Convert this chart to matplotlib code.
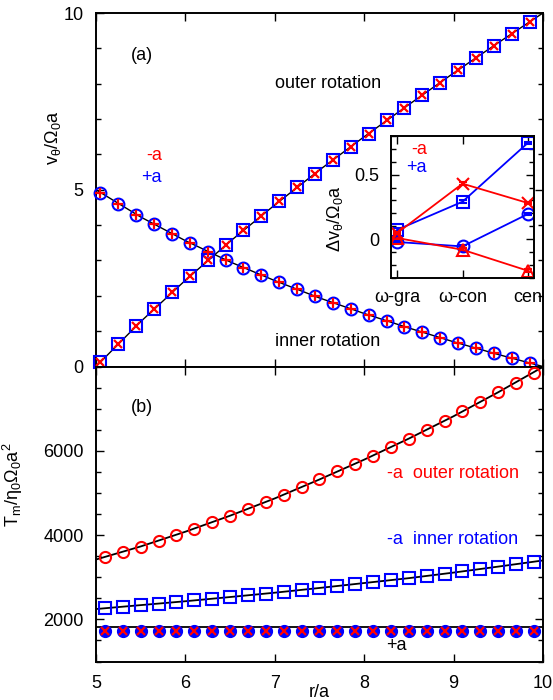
import matplotlib
matplotlib.use('Agg')
import matplotlib.pyplot as plt
from matplotlib.ticker import MultipleLocator, FixedLocator

plt.rcParams['font.family'] = ['Liberation Sans', 'DejaVu Sans']
plt.rcParams['mathtext.fontset'] = 'custom'
plt.rcParams['mathtext.rm'] = 'Liberation Sans'
plt.rcParams['mathtext.it'] = 'Liberation Sans'
plt.rcParams['font.size'] = 13

RED = '#ff0000'
BLUE = '#0000ff'
W, H = 553, 700

# (a) azimuthal velocity profiles
r_vel = [5.05, 5.25, 5.45, 5.65, 5.85, 6.05, 6.25, 6.45, 6.65, 6.85, 7.05, 7.25,
         7.45, 7.65, 7.85, 8.05, 8.25, 8.45, 8.65, 8.85, 9.05, 9.25, 9.45, 9.65, 9.85]
v_outer = [0.13, 0.65, 1.15, 1.63, 2.10, 2.56, 3.00, 3.43, 3.85, 4.27, 4.67, 5.07,
           5.46, 5.84, 6.22, 6.59, 6.96, 7.32, 7.68, 8.03, 8.38, 8.73, 9.07, 9.41, 9.75]
v_inner = [4.92, 4.60, 4.30, 4.02, 3.75, 3.49, 3.25, 3.02, 2.80, 2.58, 2.38, 2.18,
           1.99, 1.81, 1.63, 1.46, 1.29, 1.13, 0.97, 0.82, 0.67, 0.52, 0.38, 0.24, 0.10]
r_curve = [5.0, 5.5, 6.0, 6.5, 7.0, 7.5, 8.0, 8.5, 9.0, 9.5, 10.0]
curve_outer = [0.0, 1.27, 2.44, 3.54, 4.57, 5.56, 6.50, 7.41, 8.30, 9.16, 10.0]
curve_inner = [5.0, 4.23, 3.56, 2.96, 2.43, 1.94, 1.50, 1.09, 0.70, 0.34, 0.0]

# inset: velocity deviation per method
methods = ['ω-gra', 'ω-con', 'cen']
dv_minus_outer = [0.047, 0.43, 0.28]
dv_minus_inner = [0.008, -0.083, -0.246]
dv_plus_outer = [0.072, 0.29, 0.746]
dv_plus_inner = [-0.023, -0.057, 0.194]
dv_err = [0.01, 0.01, 0.01]

# (b) torque
r_torque = [5.1, 5.3, 5.5, 5.7, 5.9, 6.1, 6.3, 6.5, 6.7, 6.9, 7.1, 7.3, 7.5,
            7.7, 7.9, 8.1, 8.3, 8.5, 8.7, 8.9, 9.1, 9.3, 9.5, 9.7, 9.9]
t_minus_outer = [3479, 3600, 3728, 3862, 4000, 4150, 4300, 4460, 4625, 4790, 4962, 5142, 5324,
                 5510, 5697, 5885, 6084, 6289, 6496, 6712, 6934, 7162, 7392, 7620, 7846]
t_minus_inner = [2270, 2300, 2338, 2374, 2412, 2450, 2490, 2530, 2570, 2611, 2655, 2700, 2745,
                 2792, 2840, 2887, 2935, 2978, 3029, 3084, 3140, 3200, 3252, 3305, 3365]
t_plus = [1730, 1730, 1730, 1730, 1730, 1730, 1730, 1730, 1730, 1730, 1730, 1730, 1730,
          1730, 1730, 1730, 1730, 1730, 1730, 1730, 1730, 1730, 1730, 1730, 1730]
fit_minus_outer = [3420, 3730, 4080, 4460, 4870, 5320, 5790, 6290, 6820, 7390, 7990]
fit_minus_inner = [2245, 2338, 2430, 2530, 2633, 2745, 2862, 2978, 3110, 3252, 3398]
r_plus_line = [5.0, 10.0]
fit_plus = [1810, 1810]


def style_axes(ax):
    for s in ax.spines.values():
        s.set_linewidth(1.4)
    ax.tick_params(which='both', direction='in', top=True, right=True, width=1.0)
    ax.tick_params(which='major', length=6, pad=9)
    ax.tick_params(which='minor', length=3.5)


def label(x, y, s, **kw):
    # place text by pixel position measured from the top-left corner
    fig.text(x / W, 1 - y / H, s, va='center', **kw)


fig = plt.figure(figsize=(W / 100, H / 100), dpi=100)
ax1 = fig.add_axes([0.1736, 0.4764, 0.8082, 0.505])
ax2 = fig.add_axes([0.1736, 0.055, 0.8082, 0.4214])

# ---- panel (a)
ms_kw = dict(linestyle='none', clip_on=False, zorder=3)
ax1.plot(r_curve, curve_outer, color='black', lw=1.0, zorder=2)
ax1.plot(r_curve, curve_inner, color='black', lw=1.0, zorder=2)
ax1.plot(r_vel, v_outer, marker='s', ms=8, mfc='none', mec=BLUE, mew=1.5, **ms_kw)
ax1.plot(r_vel, v_inner, marker='o', ms=8.5, mfc='none', mec=BLUE, mew=1.5, **ms_kw)
ax1.plot(r_vel, v_outer, marker='x', ms=6, mec=RED, mew=1.6, **ms_kw)
ax1.plot(r_vel, v_inner, marker='+', ms=7, mec=RED, mew=1.6, **ms_kw)

ax1.set_xlim(5, 10)
ax1.set_ylim(0, 10)
ax1.xaxis.set_major_locator(MultipleLocator(1))
ax1.yaxis.set_major_locator(MultipleLocator(5))
ax1.yaxis.set_minor_locator(MultipleLocator(1))
ax1.set_xticklabels([])
style_axes(ax1)
ax1.set_ylabel(r'$\mathregular{v_\theta/\Omega_0a}$')
ax1.yaxis.set_label_coords(-0.074, 0.649)

label(142, 56, '(a)', ha='center')
label(275, 84, 'outer rotation', ha='left')
label(275, 342, 'inner rotation', ha='left')
label(162, 156, '-a', color=RED, ha='right')
label(162, 177, '+a', color=BLUE, ha='right')

# ---- inset
axi = fig.add_axes([0.7065, 0.6033, 0.2597, 0.2024])
xi = [0, 1, 2]
eb_kw = dict(capsize=3, elinewidth=1.0, lw=1.3, mew=1.5)
axi.errorbar(xi, dv_plus_outer, yerr=dv_err, color=BLUE, marker='s', ms=8, mfc='none', **eb_kw)
axi.errorbar(xi, dv_plus_inner, yerr=dv_err, color=BLUE, marker='o', ms=8.5, mfc='none', **eb_kw)
axi.errorbar(xi, dv_minus_outer, yerr=dv_err, color=RED, marker='x', ms=9, **eb_kw)
axi.errorbar(xi, dv_minus_inner, yerr=dv_err, color=RED, marker='^', ms=8, mfc='none', **eb_kw)
axi.set_xlim(-0.1, 2.1)
axi.set_ylim(-0.3, 0.8)
axi.xaxis.set_major_locator(FixedLocator(xi))
axi.set_xticklabels(methods)
axi.yaxis.set_major_locator(FixedLocator([0, 0.5]))
axi.set_yticklabels(['0', '0.5'])
axi.yaxis.set_minor_locator(MultipleLocator(0.1))
style_axes(axi)
axi.tick_params(axis='x', pad=8)
axi.tick_params(axis='y', pad=8)
axi.set_ylabel(r'$\mathregular{\Delta v_\theta/\Omega_0a}$')
axi.yaxis.set_label_coords(-0.32, 0.42)
label(427, 149, '-a', color=RED, ha='right')
label(427, 167, '+a', color=BLUE, ha='right')

# ---- panel (b)
ax2.plot(r_curve, fit_minus_outer, color='black', lw=1.3, zorder=2)
ax2.plot(r_curve, fit_minus_inner, color='black', lw=1.3, zorder=2)
ax2.plot(r_plus_line, fit_plus, color='black', lw=1.3, zorder=2)
ax2.plot(r_torque, t_minus_outer, marker='o', ms=8, mfc='none', mec=RED, mew=1.5, **ms_kw)
ax2.plot(r_torque, t_minus_inner, marker='s', ms=8, mfc='none', mec=BLUE, mew=1.5, **ms_kw)
ax2.plot(r_torque, t_plus, marker='o', ms=8.5, mfc=BLUE, mec=BLUE, mew=1.0, **ms_kw)
ax2.plot(r_torque, t_plus, marker='x', ms=5.5, mec=RED, mew=1.6, **ms_kw)

ax2.set_xlim(5, 10)
ax2.set_ylim(1000, 8000)
ax2.xaxis.set_major_locator(MultipleLocator(1))
ax2.yaxis.set_major_locator(FixedLocator([2000, 4000, 6000]))
ax2.yaxis.set_minor_locator(MultipleLocator(500))
style_axes(ax2)
ax2.tick_params(axis='x', pad=10)
ax2.set_xlabel('r/a', labelpad=-6)
ax2.set_ylabel(r'$\mathregular{T_m/\eta_0\Omega_0a^2}$')
ax2.yaxis.set_label_coords(-0.159, 0.598)

label(142, 407, '(b)', ha='center')
label(387, 473, '-a  outer rotation', color=RED, ha='left')
label(387, 539, '-a  inner rotation', color=BLUE, ha='left')
label(396, 646, '+a', color='black', ha='center')

fig.savefig('out.png', dpi=100)
